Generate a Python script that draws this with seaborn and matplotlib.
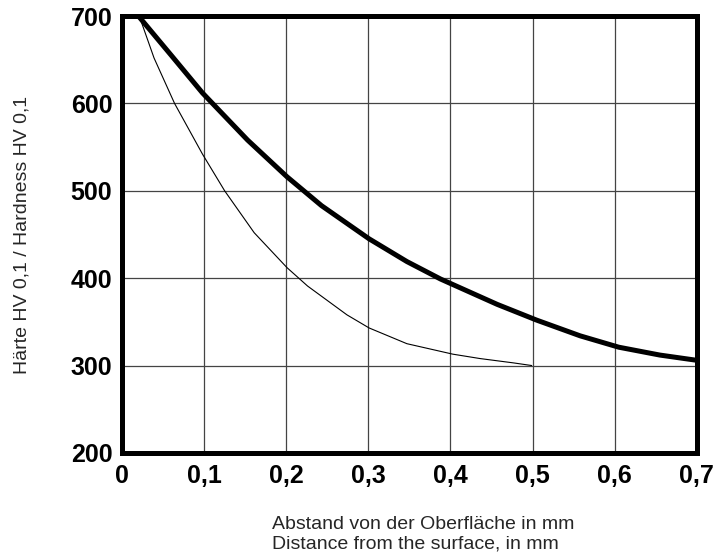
import numpy as np
import pandas as pd
import seaborn as sns
import matplotlib.pyplot as plt

# values
depth_thick = [0.02, 0.06, 0.098, 0.153, 0.201, 0.243, 0.301, 0.347, 0.388,
               0.457, 0.505, 0.558, 0.605, 0.655, 0.70]
hard_thick = [700, 655, 612, 558, 516, 483, 445, 419, 399,
              370, 352, 334, 321, 312, 306]
depth_thin = [0.021, 0.039, 0.064, 0.098, 0.125, 0.161, 0.201, 0.226, 0.274, 0.301,
              0.347, 0.403, 0.436, 0.477, 0.499]
hard_thin = [700, 652, 600, 542, 500, 452, 412, 391, 358, 343,
             325, 313, 308, 303, 300]

x_ticks = [0, 0.1, 0.2, 0.3, 0.4, 0.5, 0.6, 0.7]
x_labels = ["0", "0,1", "0,2", "0,3", "0,4", "0,5", "0,6", "0,7"]
y_ticks = [200, 300, 400, 500, 600, 700]

df_thick = pd.DataFrame({"depth": depth_thick, "hardness": hard_thick})
df_thin = pd.DataFrame({"depth": depth_thin, "hardness": hard_thin})

sns.set_theme(style="white")
plt.rcParams["font.family"] = ["Liberation Sans", "DejaVu Sans"]

fig = plt.figure(figsize=(7.28, 5.53), dpi=100)
ax = fig.add_axes([0.1676, 0.181, 0.7894, 0.790])

sns.lineplot(data=df_thick, x="depth", y="hardness", ax=ax, color="black",
             linewidth=3.6, solid_capstyle="round", solid_joinstyle="round")
sns.lineplot(data=df_thin, x="depth", y="hardness", ax=ax, color="black",
             linewidth=0.8, solid_joinstyle="round")

ax.set_xlim(0, 0.7)
ax.set_ylim(200, 700)
ax.set_xticks(x_ticks)
ax.set_xticklabels(x_labels)
ax.set_yticks(y_ticks)
ax.grid(True, color="#444444", linewidth=0.9)
ax.tick_params(axis="x", length=0, pad=8)
ax.tick_params(axis="y", length=0, pad=7)
for lab in ax.get_xticklabels() + ax.get_yticklabels():
    lab.set_fontweight("heavy")
    lab.set_fontsize(18)
    lab.set_color("black")
for s in ax.spines.values():
    s.set_linewidth(3.6)
    s.set_color("black")

ax.set_xlabel("")
ax.set_ylabel("")
fig.text(0.374, 0.034, "Abstand von der Oberfläche in mm\nDistance from the surface, in mm",
         ha="left", va="center", fontsize=14, linespacing=1.15)
fig.text(0.030, 0.575, "Härte HV 0,1 / Hardness HV 0,1", rotation=90,
         ha="center", va="center", fontsize=14)

fig.savefig("out.png", dpi=100)
